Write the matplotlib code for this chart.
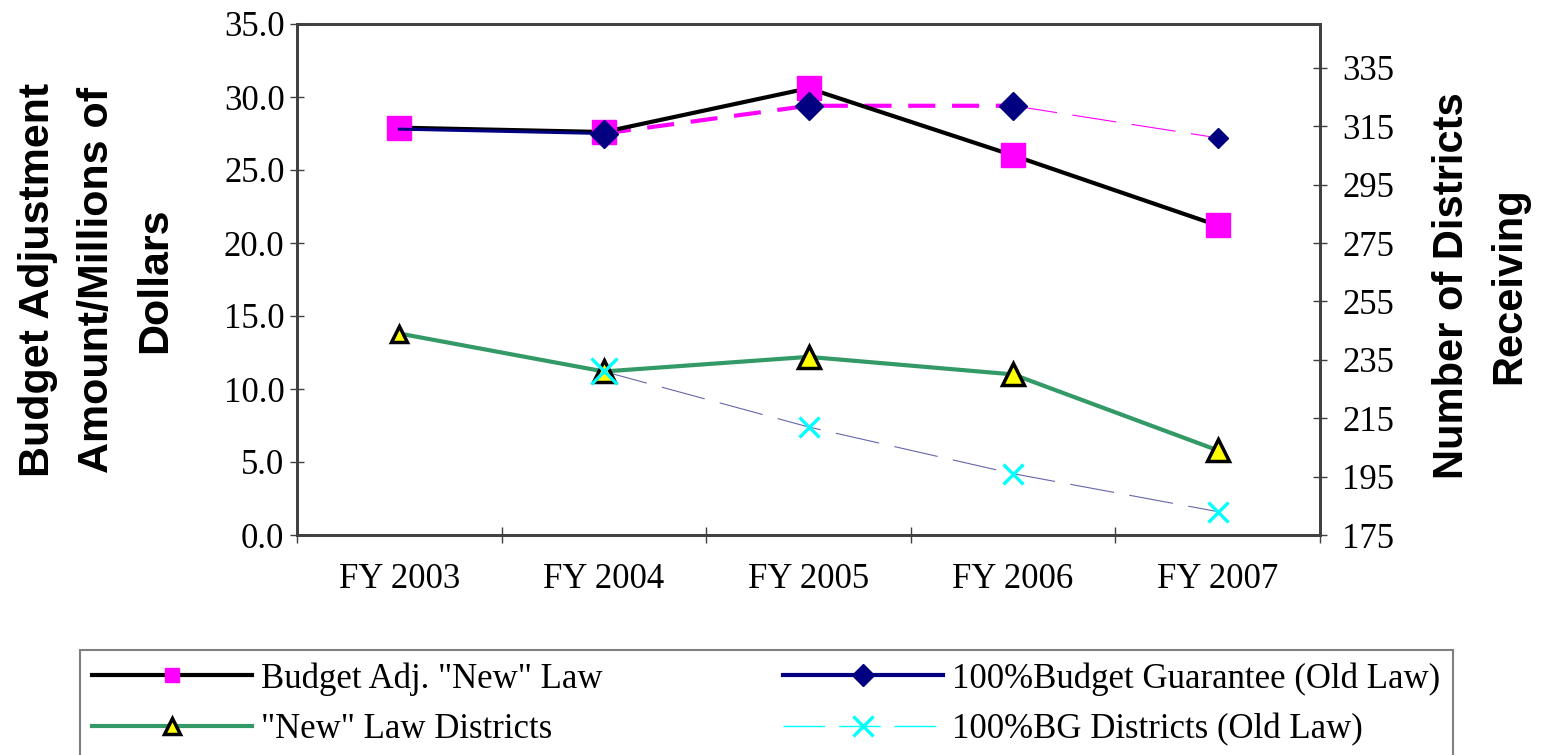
import matplotlib
matplotlib.use("Agg")
import matplotlib.pyplot as plt
import numpy as np
from matplotlib.lines import Line2D
from matplotlib.ticker import FormatStrFormatter

plt.rcParams['font.family'] = ['Liberation Serif', 'DejaVu Serif']

# data
years = ["FY 2003", "FY 2004", "FY 2005", "FY 2006", "FY 2007"]
budget_adj_new = [27.9, 27.6, 30.6, 26.0, 21.2]          # $M, left axis
budget_guarantee_old = [27.8, 27.5, 29.4, 29.4, 27.2]    # $M, left axis
new_law_districts = [244, 231, 236, 230, 204]            # count, right axis
bg_districts_old = [np.nan, 231, 212, 196, 183]          # count, right axis

left_ticks = np.arange(0, 36, 5)
right_ticks = np.arange(175, 336, 20)

MAGENTA = '#FF00FF'
NAVY = '#000080'
GREEN = '#339966'
CYAN = '#00FFFF'
SLATE = '#6666AA'
SPINE = '#404040'

x = np.arange(len(years))

fig = plt.figure(figsize=(15.42, 7.55), dpi=100)
ax = fig.add_axes([297 / 1542, 1 - 535 / 755, (1320 - 297) / 1542, (535 - 24) / 755])
ax2 = ax.twinx()

# Budget Adj. "New" Law
ax.plot(x, budget_adj_new, color='black', lw=3, zorder=3)
ax.plot(x, budget_adj_new, ls='none', marker='s', ms=17,
        mfc=MAGENTA, mec=MAGENTA, zorder=4)

# 100% Budget Guarantee (Old Law) - segments formatted differently
ax.plot(x[0:2], budget_guarantee_old[0:2], color=NAVY, lw=2.2, zorder=5)
ax.plot(x[1:4], budget_guarantee_old[1:4], color=MAGENTA, lw=3,
        dashes=(6.5, 4), zorder=2)
ax.plot(x[3:5], budget_guarantee_old[3:5], color=MAGENTA, lw=0.8,
        dashes=(40, 14), zorder=2)
ax.plot(x[1:4], budget_guarantee_old[1:4], ls='none', marker='D', ms=14,
        mfc=NAVY, mec=NAVY, zorder=6)
ax.plot(x[4:5], budget_guarantee_old[4:5], ls='none', marker='D', ms=10,
        mfc=NAVY, mec=NAVY, zorder=6)

# "New" Law Districts
ax2.plot(x, new_law_districts, color=GREEN, lw=3, zorder=2)
ax2.plot(x[1:], new_law_districts[1:], ls='none', marker='^', ms=16,
         mfc='yellow', mec='black', mew=2.5, zorder=3)
ax2.plot(x[:1], new_law_districts[:1], ls='none', marker='^', ms=11,
         mfc='yellow', mec='black', mew=2.5, zorder=3)

# 100% BG Districts (Old Law)
ax2.plot(x, bg_districts_old, color=SLATE, lw=0.8, dashes=(40, 14), zorder=2)
ax2.plot(x[1:2], bg_districts_old[1:2], ls='none', marker='x', ms=19,
         mec=CYAN, mew=2.4, zorder=4)
ax2.plot(x[2:], bg_districts_old[2:], ls='none', marker='x', ms=14,
         mec=CYAN, mew=2.4, zorder=4)

# axes
ax.set_xlim(-0.5, len(years) - 0.5)
ax.set_xticks(np.arange(-0.5, len(years), 1))
ax.set_xticklabels([])
ax.set_xticks(x, minor=True)
ax.set_xticklabels(years, minor=True)
ax.tick_params(axis='x', which='major', direction='inout', length=12, width=1, color=SPINE)
ax.tick_params(axis='x', which='minor', length=0, pad=20, labelsize=25)

ax.set_ylim(0, 35)
ax.set_yticks(left_ticks)
ax.yaxis.set_major_formatter(FormatStrFormatter('%.1f'))
ax.tick_params(axis='y', direction='inout', length=10, width=1, pad=4,
               labelsize=25, color=SPINE)

ax2.set_ylim(175, 350)
ax2.set_yticks(right_ticks)
ax2.tick_params(axis='y', direction='inout', length=10, width=1, pad=11,
                labelsize=25, color=SPINE)

for a in (ax, ax2):
    for s in a.spines.values():
        s.set_color(SPINE)
        s.set_linewidth(2)

fig.text(97 / 1542, 1 - 280 / 755, "Budget Adjustment\nAmount/Millions of\nDollars",
         rotation=90, ha='center', va='center', multialignment='center',
         family='Liberation Sans', weight='bold', fontsize=31, linespacing=1.6)
fig.text(1481 / 1542, 1 - 286 / 755, "Number of Districts\nReceiving",
         rotation=90, ha='center', va='center', multialignment='center',
         family='Liberation Sans', weight='bold', fontsize=30, linespacing=1.55)

# legend
handles = [
    Line2D([], [], color='black', lw=3, marker='s', ms=10, mfc=MAGENTA, mec=MAGENTA),
    Line2D([], [], color=GREEN, lw=3, marker='^', ms=11, mfc='yellow', mec='black', mew=2.5),
    Line2D([], [], color=NAVY, lw=3, marker='D', ms=11, mfc=NAVY, mec=NAVY),
    Line2D([], [], color=CYAN, lw=1, dashes=(30, 10), marker='x', ms=15, mec=CYAN, mew=2.4),
]
labels = ['Budget Adj. "New" Law', '"New" Law Districts',
          '100%Budget Guarantee (Old Law)', '100%BG Districts (Old Law)']
leg = fig.legend(handles, labels, ncol=2, loc='upper left',
                 bbox_to_anchor=(80 / 1542, 1 - 650 / 755), borderaxespad=0,
                 fontsize=25, frameon=True, fancybox=False, edgecolor='#808080',
                 framealpha=1, handlelength=4.6, handletextpad=0.27,
                 columnspacing=5.2, labelspacing=0.5, borderpad=0.35)
leg.get_frame().set_linewidth(1.5)

fig.savefig("out.png", dpi=100)
